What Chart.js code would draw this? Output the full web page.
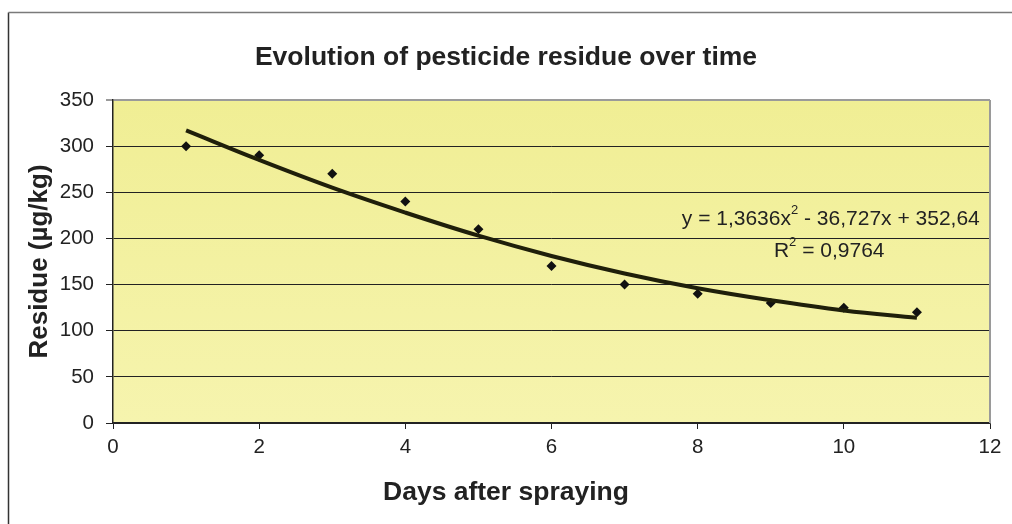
<!DOCTYPE html>
<html>
<head>
<meta charset="utf-8">
<script src="https://cdn.jsdelivr.net/npm/chart.js@4"></script>
<style>
  html, body { margin: 0; padding: 0; background: #ffffff; }
  #wrap { width: 1012px; height: 524px; position: relative; }
</style>
</head>
<body>
<div id="wrap"><canvas id="residue-chart"></canvas></div>
<script>
// values
const days = [1, 2, 3, 4, 5, 6, 7, 8, 9, 10, 11];
const residue = [300, 290, 270, 240, 210, 170, 150, 140, 130, 125, 120];
// polynomial trend line as drawn in the picture, read at each day
const trend = [317, 285, 255, 228, 203, 181, 162, 146, 133, 122, 114];
const yTicks = [0, 50, 100, 150, 200, 250, 300, 350];
const xTicks = [0, 2, 4, 6, 8, 10, 12];

const chartTitle = "Evolution of pesticide residue over time";
const xTitle = "Days after spraying";
const yTitle = "Residue (µg/kg)";
const equationParts = ["y = 1,3636x", "2", " - 36,727x + 352,64"];
const r2Parts = ["R", "2", " = 0,9764"];

const FONT = "'Liberation Sans', Arial, sans-serif";
const INK = "#222222";

function toPoints(xs, ys) {
  return xs.map((x, i) => ({ x, y: ys[i] }));
}

// yellow plot background + grey right border + outer frame
const plotFrame = {
  id: "plotFrame",
  beforeDraw(chart) {
    const { ctx, chartArea: a } = chart;
    ctx.save();
    const g = ctx.createLinearGradient(0, a.top, 0, a.bottom);
    g.addColorStop(0, "#f0ee94");
    g.addColorStop(1, "#f6f4ae");
    ctx.fillStyle = g;
    ctx.fillRect(a.left, a.top, a.right - a.left, a.bottom - a.top);
    // outer chart frame (only left and top are visible)
    ctx.lineWidth = 1.5;
    ctx.beginPath();
    ctx.moveTo(8.5, chart.height);
    ctx.lineTo(8.5, 12.5);
    ctx.strokeStyle = "#333333";
    ctx.stroke();
    ctx.beginPath();
    ctx.moveTo(8.5, 12.5);
    ctx.lineTo(chart.width, 12.5);
    ctx.strokeStyle = "#7a7a7a";
    ctx.stroke();
    ctx.restore();
  },
  afterDatasetsDraw(chart) {
    const { ctx, chartArea: a } = chart;
    ctx.save();
    ctx.strokeStyle = "#9a9a9a";
    ctx.lineWidth = 2;
    ctx.beginPath();
    ctx.moveTo(a.right, a.top);
    ctx.lineTo(a.right, a.bottom);
    ctx.stroke();
    ctx.restore();
  },
};

// trend line equation, with raised small "2"
function drawParts(ctx, parts, x, y, align) {
  const big = "21px " + FONT;
  const small = "13px " + FONT;
  ctx.font = big;
  const w0 = ctx.measureText(parts[0]).width;
  const w2 = ctx.measureText(parts[2]).width;
  ctx.font = small;
  const w1 = ctx.measureText(parts[1]).width;
  const total = w0 + w1 + w2;
  const start = align === "right" ? x - total : x - total / 2;
  ctx.textBaseline = "middle";
  ctx.textAlign = "left";
  ctx.font = big;
  ctx.fillText(parts[0], start, y);
  ctx.font = small;
  ctx.fillText(parts[1], start + w0, y - 9);
  ctx.font = big;
  ctx.fillText(parts[2], start + w0 + w1, y);
}

const equationLabel = {
  id: "equationLabel",
  afterDraw(chart) {
    const { ctx, scales } = chart;
    ctx.save();
    ctx.fillStyle = INK;
    drawParts(ctx, equationParts, scales.x.getPixelForValue(11.86), scales.y.getPixelForValue(221), "right");
    drawParts(ctx, r2Parts, scales.x.getPixelForValue(9.8), scales.y.getPixelForValue(186), "center");
    ctx.restore();
  },
};

new Chart(document.getElementById("residue-chart"), {
  type: "scatter",
  data: {
    datasets: [
      {
        type: "line",
        data: toPoints(days, trend),
        borderColor: "#1f1f0a",
        borderWidth: 4,
        pointRadius: 0,
        tension: 0.4,
        fill: false,
        order: 1,
      },
      {
        data: toPoints(days, residue),
        pointStyle: "rectRot",
        pointRadius: 5,
        backgroundColor: "#111111",
        borderColor: "#111111",
        borderWidth: 0,
        showLine: false,
        order: 2,
      },
    ],
  },
  options: {
    responsive: true,
    maintainAspectRatio: false,
    animation: false,
    events: [],
    layout: { padding: { left: 22, right: 22, top: 0, bottom: 0 } },
    plugins: {
      legend: { display: false },
      tooltip: { enabled: false },
      title: {
        display: true,
        text: chartTitle,
        color: INK,
        font: { family: FONT, size: 26.5, weight: "bold" },
        padding: { top: 42, bottom: 26.2 },
      },
      subtitle: {
        display: true,
        position: "bottom",
        text: xTitle,
        color: INK,
        font: { family: FONT, size: 26.5, weight: "bold" },
        padding: { top: 4.2, bottom: 15 },
      },
    },
    scales: {
      x: {
        type: "linear",
        min: 0,
        max: 12,
        afterBuildTicks(scale) {
          scale.ticks = xTicks.map((v) => ({ value: v }));
        },
        afterFit(scale) {
          scale.height = 50;
        },
        ticks: {
          color: INK,
          font: { family: FONT, size: 20.5 },
          padding: 6,
          maxRotation: 0,
        },
        grid: {
          drawOnChartArea: false,
          drawTicks: true,
          tickLength: 6,
          color: "#222222",
        },
        border: { display: true, color: "#222222", width: 1.5 },
      },
      y: {
        min: 0,
        max: 350,
        afterBuildTicks(scale) {
          scale.ticks = yTicks.map((v) => ({ value: v }));
        },
        afterFit(scale) {
          scale.width = 91;
        },
        ticks: {
          color: INK,
          font: { family: FONT, size: 20.5 },
          padding: 12,
        },
        grid: {
          color(ctx) {
            return ctx.tick && ctx.tick.value === 350 ? "#9a9a9a" : "#222222";
          },
          lineWidth(ctx) {
            return ctx.tick && ctx.tick.value === 350 ? 2 : 1;
          },
          tickLength: 7,
        },
        border: { display: true, color: "#222222", width: 1.5 },
        title: {
          display: true,
          text: yTitle,
          color: INK,
          font: { family: FONT, size: 26, weight: "bold" },
          padding: { top: 2.4, bottom: 0 },
        },
      },
    },
  },
  plugins: [plotFrame, equationLabel],
});
</script>
</body>
</html>
